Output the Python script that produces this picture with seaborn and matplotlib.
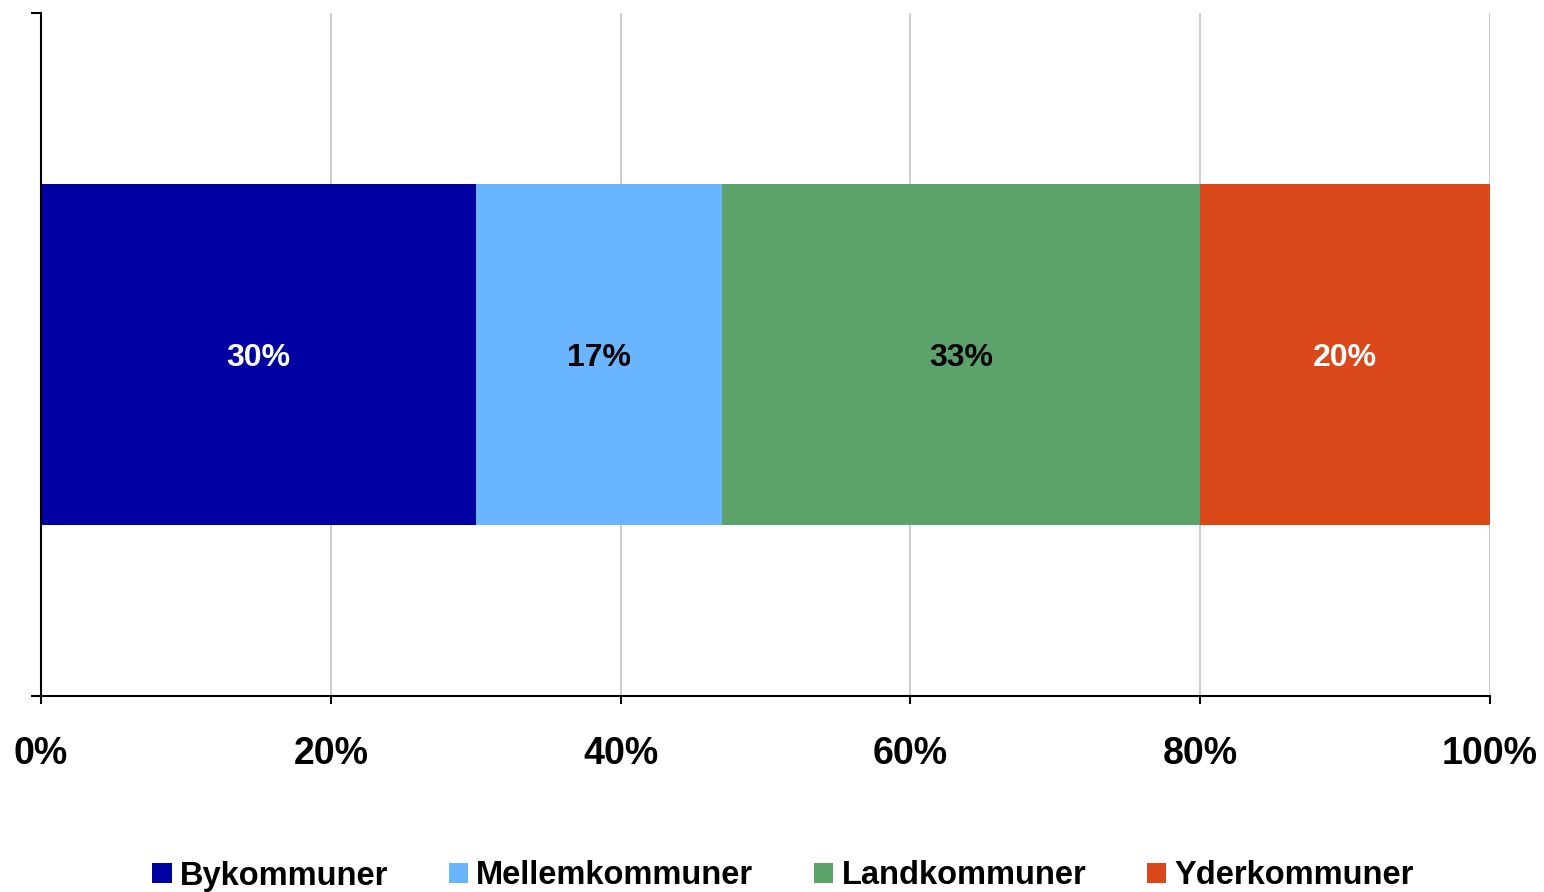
import numpy as np
import pandas as pd
import matplotlib
matplotlib.use('Agg')
from matplotlib import pyplot as plt
from matplotlib.patches import Patch
import seaborn as sns

# data
kommuner = ['Bykommuner', 'Mellemkommuner', 'Landkommuner', 'Yderkommuner']
andel = [30, 17, 33, 20]
farver = ['#0000A3', '#69B5FF', '#5BA36A', '#DA4819']
tekstfarver = ['white', 'black', 'black', 'white']
xticks = [0, 20, 40, 60, 80, 100]

sns.set_style('white')
plt.rcParams['font.family'] = ['Liberation Sans', 'DejaVu Sans']
plt.rcParams['font.weight'] = 'bold'
plt.rcParams['text.color'] = 'black'
plt.rcParams['xtick.color'] = 'black'
plt.rcParams['ytick.color'] = 'black'

fig = plt.figure(figsize=(15.44, 8.92), dpi=100)
ax = fig.add_axes([41 / 1544, 1 - 696 / 892, 1449 / 1544, 683 / 892])

cum = np.cumsum(andel)
left = cum - np.array(andel)

# stacked bar: draw cumulative bars from the longest to the shortest
for i in range(len(kommuner) - 1, -1, -1):
    df = pd.DataFrame({'x': [cum[i]], 'y': ['']})
    sns.barplot(data=df, x='x', y='y', orient='h', color=farver[i],
                width=0.5, saturation=1, ax=ax, zorder=2, linewidth=0)

for i in range(len(kommuner)):
    ax.text(left[i] + andel[i] / 2, 0.005, f'{andel[i]}%', ha='center', va='center',
            color=tekstfarver[i], fontsize=23, fontweight='bold', zorder=3)

ax.set_xlim(0, 100)
ax.set_ylim(0.5, -0.5)
ax.set_xticks(xticks)
ax.set_xticklabels([f'{t}%' for t in xticks], fontsize=27, fontweight='bold', color='black')
ax.set_yticks([-0.5, 0.5])
ax.set_yticklabels(['', ''])
ax.set_xlabel('')
ax.set_ylabel('')

ax.grid(axis='x', color='#C8C8C8', linewidth=1.3, zorder=0)
ax.grid(axis='y', visible=False)
ax.set_axisbelow(True)
for s in ['top', 'right']:
    ax.spines[s].set_visible(False)
for s in ['left', 'bottom']:
    ax.spines[s].set_color('black')
    ax.spines[s].set_linewidth(1.5)
    ax.spines[s].set_zorder(4)
ax.tick_params(axis='x', direction='out', length=6, width=1.5, color='black', pad=23, bottom=True)
ax.tick_params(axis='y', direction='out', length=7, width=1.5, color='black', left=True)

handles = [Patch(facecolor=c, edgecolor='none') for c in farver]
fig.legend(handles, kommuner, loc='center', bbox_to_anchor=(783 / 1544, 1 - 876 / 892),
           ncol=4, frameon=False, prop={'size': 23.5, 'weight': 'bold'}, labelcolor='black',
           handlelength=0.6, handleheight=0.6, handletextpad=0.25, columnspacing=1.85)

fig.savefig('out.png', dpi=100)
